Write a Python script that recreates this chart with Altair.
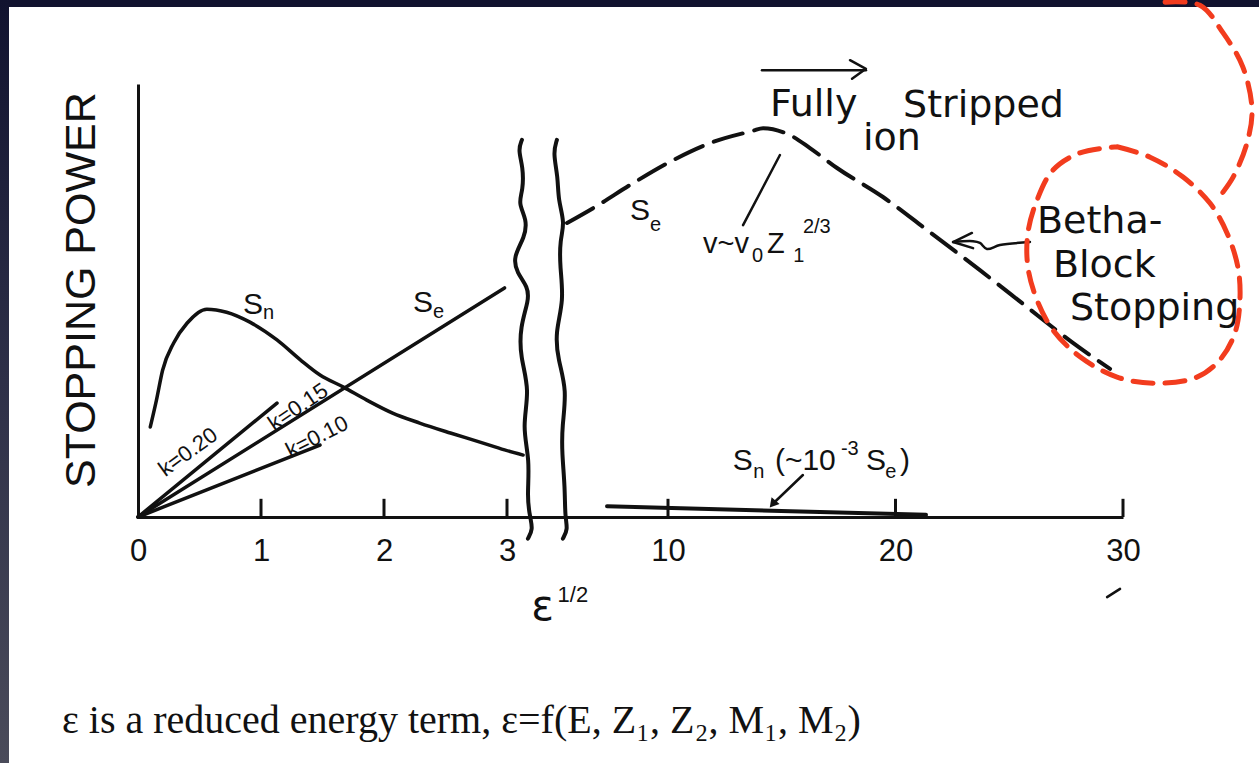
import altair as alt
import pandas as pd

# ---------------------------------------------------------------------------
# Stopping power vs. eps^1/2 (broken x axis: 0..3 linear, then 10..30)
# y is stopping power in arbitrary units (0..100 spans the drawn y axis)
# ---------------------------------------------------------------------------

# Low-energy branch
sn_low_x = [0.10, 0.15, 0.20, 0.29, 0.40, 0.56, 0.72, 0.91, 1.13, 1.32,
            1.48, 1.67, 1.86, 2.07, 2.29, 2.54, 2.78, 2.98, 3.70]
sn_low_y = [20.8, 27.0, 33.9, 40.2, 44.8, 48.0, 47.3, 45.0, 40.9, 36.3,
            32.8, 30.0, 27.0, 24.0, 21.7, 19.4, 17.3, 15.5, 14.3]
se_low_x = [0.0, 2.98]          # electronic stopping, k = 0.15
se_low_y = [0.0, 52.9]
k020_x = [0.0, 1.13]
k020_y = [0.0, 26.3]
k010_x = [0.0, 1.48]
k010_y = [0.0, 16.6]

# High-energy branch
se_high_x = [5.61, 6.83, 8.48, 10.22, 11.98, 13.74, 14.18, 15.36, 16.24,
             17.43, 19.45, 21.38, 23.71, 25.78, 27.80, 29.43]
se_high_y = [67.9, 71.6, 77.1, 82.4, 86.6, 89.2, 89.8, 88.2, 85.2,
             80.6, 73.9, 66.3, 57.0, 48.5, 40.2, 34.2]
sn_high_x = [7.35, 21.34]       # Sn ~ 1e-3 Se
sn_high_y = [2.5, 0.5]

# Axis-break squiggles
brk1_x = [3.65, 3.48, 3.70, 3.70, 3.48, 3.87, 3.78, 3.26, 3.43, 3.91,
          3.95, 3.57, 3.57, 4.00, 3.65, 4.00, 3.87, 4.00, 4.13, 3.91]
brk1_y = [87.1, 84.8, 80.8, 75.5, 72.5, 68.6, 64.7, 60.0, 56.4, 53.1,
          50.1, 43.9, 37.0, 29.3, 20.8, 13.2, 4.6, 0.0, -2.8, -5.0]
brk2_x = [5.17, 5.00, 5.22, 5.22, 5.52, 5.30, 5.30, 5.48, 5.09, 5.22,
          5.61, 5.39, 5.39, 5.52, 5.52, 5.65, 5.43]
brk2_y = [87.1, 84.1, 78.5, 73.2, 67.9, 64.0, 57.7, 50.1, 42.5, 36.3,
          29.3, 20.8, 14.8, 6.9, 0.0, -2.8, -5.0]

x_ticks = [0, 1, 2, 3, 10, 20, 30]
tick_marks = [1, 2, 3, 10, 20, 30]

# Hand-drawn notes
arrow_top_x = [14.13, 18.70]
arrow_top_y = [103.2, 103.2]
arrow_top_head_x = [18.00, 18.70, 18.09]
arrow_top_head_y = [105.5, 103.5, 101.2]
bethe_arrow_x = [25.91, 24.59, 24.02, 23.71, 23.41, 22.53]
bethe_arrow_y = [63.5, 62.8, 61.9, 63.3, 63.7, 63.5]
bethe_head_x = [23.36, 22.53, 23.41]
bethe_head_y = [65.6, 63.5, 62.1]
peak_pointer_x = [13.30, 14.92]
peak_pointer_y = [67.4, 83.6]
sn_pointer_x = [15.93, 14.60]
sn_pointer_y = [9.7, 3.0]
stray_x = [29.30, 29.87]
stray_y = [-18.5, -16.6]

ring_x = [29.74, 31.19, 32.64, 33.82, 34.57, 35.05, 35.14, 34.92, 34.26, 33.25,
          31.49, 29.74, 28.11, 26.92, 26.22, 25.82, 25.82, 26.22, 26.92, 28.11, 29.74]
ring_y = [85.5, 83.1, 78.5, 72.5, 65.6, 57.7, 50.1, 42.5, 36.3, 32.3,
          30.9, 32.3, 37.0, 43.2, 50.1, 57.7, 65.6, 73.2, 80.1, 84.1, 85.5]
arc_x = [31.85, 33.38, 34.40, 35.27, 35.67, 35.45, 34.84, 34.13]
arc_y = [118.9, 118.2, 111.8, 103.9, 94.0, 86.4, 78.5, 73.2]

INK = "#111111"
RED = "#f23c1e"

x_scale = alt.Scale(domain=[0, 3, 10, 30], range=[0, 369, 530, 985],
                    zero=False, nice=False)
y_scale = alt.Scale(domain=[0, 100], zero=False, nice=False)

x_axis = alt.Axis(values=x_ticks, format="d", title=None, grid=False,
                  ticks=False, tickSize=0, labelFont="Liberation Sans",
                  labelFontSize=31, labelColor=INK, labelPadding=19,
                  labelFlush=False, labelOverlap=False,
                  domainColor=INK, domainWidth=3, zindex=1)
y_axis = alt.Axis(title=None, grid=False, ticks=False, tickSize=0,
                  labels=False, domainColor=INK, domainWidth=3, zindex=1)

X = alt.X("x:Q", scale=x_scale, axis=x_axis)
Y = alt.Y("y:Q", scale=y_scale, axis=y_axis)


def path(xs, ys, color=INK, width=3.5, dash=None, interp="linear"):
    df = pd.DataFrame({"x": xs, "y": ys, "i": range(len(xs))})
    kw = dict(color=color, strokeWidth=width, interpolate=interp,
              strokeCap="round", strokeJoin="round")
    if dash:
        kw["strokeDash"] = dash
    return alt.Chart(df).mark_line(**kw).encode(x=X, y=Y, order="i:Q")


def labels(rows, font, size, align="left", baseline="alphabetic", color=INK):
    df = pd.DataFrame(rows, columns=["text", "x", "y", "angle"])
    return alt.Chart(df).mark_text(
        font=font, fontSize=size, align=align, baseline=baseline, color=color
    ).encode(x=X, y=Y, text="text:N",
             angle=alt.Angle("angle:Q", scale=None))


one = pd.DataFrame({"k": [0]})

# slide background: white page with dark frame on the left and top
page = alt.Chart(one).mark_rect(color="white").encode(
    x=alt.value(-129), x2=alt.value(1121), y=alt.value(-77), y2=alt.value(679))
frame = alt.Chart(one).mark_rect(
    color=alt.LinearGradient(
        gradient="linear", x1=0, x2=0, y1=0, y2=1,
        stops=[alt.GradientStop(color="#11132f", offset=0),
               alt.GradientStop(color="#2e3048", offset=0.5),
               alt.GradientStop(color="#4a4b5a", offset=1)])
).encode(x=alt.value(-138), x2=alt.value(-129), y=alt.value(-84), y2=alt.value(679))

ticks_df = pd.DataFrame({"x": tick_marks, "y": [0.0] * len(tick_marks),
                         "y2": [4.2] * len(tick_marks)})
ticks = alt.Chart(ticks_df).mark_rule(color=INK, strokeWidth=3).encode(
    x=X, y=Y, y2="y2:Q")

sn_head = alt.Chart(pd.DataFrame({"x": [sn_pointer_x[1]], "y": [sn_pointer_y[1]]})).mark_point(
    shape="triangle-up", filled=True, color=INK, size=110, angle=220, opacity=1
).encode(x=X, y=Y)

sans = "Liberation Sans"
big_sans = labels([
    ["S", 0.854, 46.9, 0], ["S", 2.236, 47.3, 0], ["S", 8.35, 68.6, 0],
    ["S", 12.85, 10.9, 0], ["(~10", 14.70, 10.9, 0], ["S", 18.70, 10.9, 0],
    [")", 20.20, 10.9, 0],
], sans, 30)
v_sans = labels([["v~v", 11.54, 61.0, 0], ["Z", 14.35, 61.0, 0]], sans, 29)
small_sans = labels([
    ["n", 1.016, 45.7, 0], ["e", 2.398, 46.0, 0], ["e", 9.22, 66.1, 0],
    ["0", 13.69, 58.9, 0], ["1", 15.50, 58.9, 0], ["2/3", 15.93, 65.6, 0],
    ["n", 13.75, 9.0, 0], ["-3", 17.60, 14.3, 0], ["e", 19.55, 9.0, 0],
], sans, 20)
k_labels = labels([
    ["k=0.20", 0.407, 15.0, 324], ["k=0.15", 1.301, 25.4, 326],
    ["k=0.10", 1.455, 18.5, 333],
], sans, 22, align="center", baseline="middle")
eps = labels([["ε", 4.05, -23.8, 0]], "DejaVu Sans", 42)
eps_pow = labels([["1/2", 5.20, -19.6, 0]], sans, 22)
y_title = labels([["STOPPING POWER", -0.455, 52.4, 270]], sans, 43,
                 align="center", baseline="middle")
caption = labels([["ε is a reduced energy term, ε=f(E, Z₁, Z₂, M₁, M₂)", -0.618, -49.9, 0]],
                 "Liberation Serif", 40)
notes = labels([
    ["Fully", 14.48, 92.6, 0], ["Stripped", 20.33, 92.4, 0], ["ion", 18.57, 84.8, 0],
    ["Betha-", 26.22, 65.6, 0], ["Block", 26.92, 55.4, 0], ["Stopping", 27.67, 45.5, 0],
], "DejaVu Sans", 38)

layers = [
    page, frame,
    path(sn_low_x, sn_low_y, interp="monotone"),
    path(se_low_x, se_low_y),
    path(k020_x, k020_y),
    path(k010_x, k010_y),
    path(se_high_x, se_high_y, width=4, dash=[30, 12], interp="monotone"),
    path(sn_high_x, sn_high_y, width=4),
    path(brk1_x, brk1_y, width=4, interp="basis"),
    path(brk2_x, brk2_y, width=4, interp="basis"),
    ticks,
    path(peak_pointer_x, peak_pointer_y, width=2.5),
    path(sn_pointer_x, sn_pointer_y, width=2.5),
    sn_head,
    big_sans, v_sans, small_sans, k_labels, eps, eps_pow, y_title, caption,
    notes,
    path(arrow_top_x, arrow_top_y, width=2.5),
    path(arrow_top_head_x, arrow_top_head_y, width=2.5),
    path(bethe_arrow_x, bethe_arrow_y, width=2.5, interp="catmull-rom"),
    path(bethe_head_x, bethe_head_y, width=2.5),
    path(stray_x, stray_y, width=2.5),
    path(ring_x, ring_y, color=RED, width=5, dash=[20, 12], interp="catmull-rom"),
    path(arc_x, arc_y, color=RED, width=5, dash=[20, 12], interp="catmull-rom"),
]

chart = alt.layer(*layers).properties(
    width=985, height=433,
    padding={"left": 138, "top": 84, "right": 136, "bottom": 246},
    autosize=alt.AutoSizeParams(type="none"),
    background="#11132f",
).configure_view(stroke=None)

chart.save("out.html", embed_options={"renderer": "svg", "actions": False})
